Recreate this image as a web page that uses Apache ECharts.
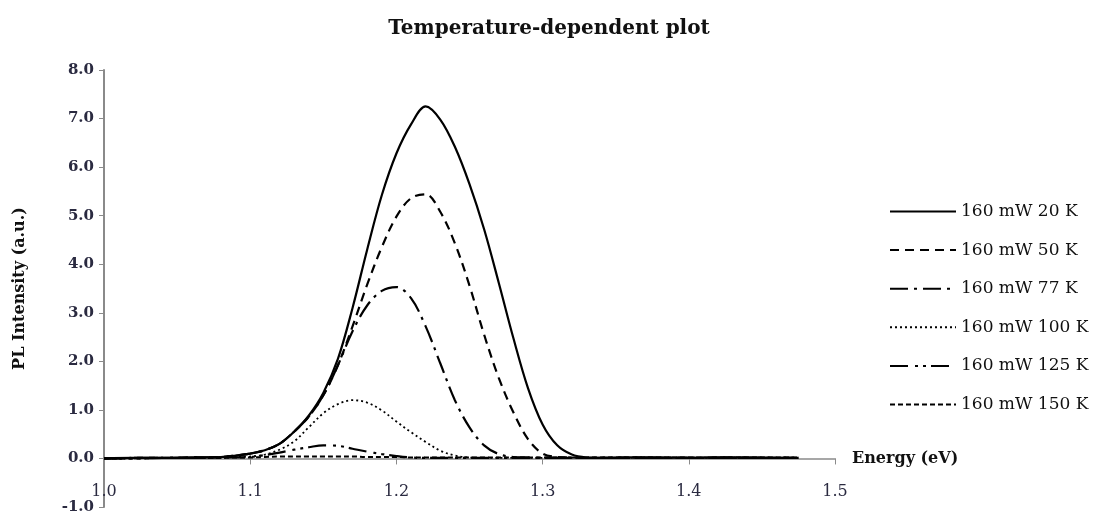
<!DOCTYPE html>
<html>
<head>
<meta charset="utf-8">
<script src="https://cdn.jsdelivr.net/npm/echarts@6/dist/echarts.min.js"></script>
<style>
html,body{margin:0;padding:0;background:#fff;}
#chart{width:1098px;height:516px;}
</style>
</head>
<body>
<div id="chart"></div>
<script>
// Energy (eV) sample points shared by all series
var energy = [1.00,1.02,1.04,1.06,1.08,1.09,1.10,1.11,1.12,1.13,1.14,1.15,1.16,1.17,1.18,1.19,1.20,1.21,1.22,1.23,1.24,1.25,1.26,1.27,1.28,1.29,1.30,1.31,1.32,1.33,1.34,1.36,1.38,1.40,1.42,1.44,1.46,1.475];
var seriesNames = ["160 mW 20 K","160 mW 50 K","160 mW 77 K","160 mW 100 K","160 mW 125 K","160 mW 150 K"];
var pl20  = [0.00,0.01,0.01,0.02,0.03,0.06,0.10,0.17,0.30,0.55,0.88,1.35,2.05,3.10,4.30,5.42,6.28,6.88,7.25,6.98,6.42,5.65,4.72,3.62,2.48,1.45,0.70,0.27,0.08,0.02,0.01,0.02,0.02,0.01,0.02,0.02,0.01,0.01];
var pl50  = [0.00,0.01,0.01,0.02,0.03,0.06,0.10,0.17,0.30,0.55,0.86,1.30,1.92,2.72,3.58,4.35,4.98,5.36,5.44,5.08,4.43,3.56,2.55,1.66,0.95,0.40,0.10,0.03,0.02,0.01,0.01,0.02,0.01,0.01,0.02,0.01,0.01,0.01];
var pl77  = [0.00,0.01,0.01,0.02,0.03,0.06,0.10,0.17,0.30,0.55,0.86,1.30,1.92,2.62,3.15,3.45,3.53,3.30,2.72,1.96,1.20,0.64,0.27,0.09,0.03,0.02,0.01,0.01,0.01,0.01,0.01,0.01,0.01,0.01,0.01,0.01,0.01,0.01];
var pl100 = [0.00,0.00,0.01,0.01,0.02,0.03,0.04,0.08,0.18,0.35,0.64,0.93,1.12,1.20,1.15,0.99,0.76,0.54,0.34,0.16,0.06,0.02,0.01,0.01,0.01,0.01,0.01,0.01,0.01,0.01,0.01,0.01,0.01,0.01,0.01,0.01,0.01,0.01];
var pl125 = [0.00,0.00,0.01,0.01,0.02,0.02,0.03,0.07,0.12,0.18,0.23,0.27,0.26,0.20,0.14,0.09,0.05,0.02,0.01,0.01,0.01,0.01,0.01,0.01,0.01,0.01,0.01,0.01,0.01,0.01,0.01,0.01,0.01,0.01,0.01,0.01,0.01,0.01];
var pl150 = [0.00,0.00,0.01,0.01,0.01,0.02,0.02,0.03,0.04,0.04,0.04,0.04,0.04,0.04,0.03,0.03,0.03,0.02,0.02,0.02,0.02,0.02,0.02,0.02,0.02,0.02,0.02,0.02,0.02,0.02,0.02,0.02,0.02,0.02,0.02,0.02,0.02,0.02];
var xTicks = {min:1.0, max:1.5, interval:0.1};
var yTicks = {min:-1, max:8, interval:1};

var allValues = [pl20, pl50, pl77, pl100, pl125, pl150];
var dashTypes = ['solid', [9,6], [18,6,3,6], [2,3], [18,7,3,5,3,5], [5,3]];
var widths = [2.2, 2.2, 2.2, 1.8, 2.2, 2];

var FONT = '"DejaVu Serif", serif';
var series = allValues.map(function(vals, k){
  return {
    name: seriesNames[k],
    type: 'line',
    smooth: 0.35,
    symbol: 'none',
    data: energy.map(function(e, i){ return [e, vals[i]]; }),
    lineStyle: {color:'#000', width: widths[k], type: dashTypes[k]},
    itemStyle: {color:'#000'},
    z: 10 - k
  };
});

var chart = echarts.init(document.getElementById('chart'), null, {renderer:'canvas'});
chart.setOption({
  animation: false,
  backgroundColor: '#fff',
  title: {
    text: 'Temperature-dependent plot',
    left: 'center', top: 14,
    textStyle: {fontFamily: FONT, fontSize: 20, fontWeight: 'bold', color: '#111'}
  },
  legend: {
    orient: 'vertical',
    left: 884, top: 198,
    itemWidth: 66, itemHeight: 14, itemGap: 21.6,
    itemStyle: {opacity: 0},
    textStyle: {fontFamily: FONT, fontSize: 17, color: '#111'},
    data: seriesNames
  },
  grid: {left: 104, right: 263, top: 70, bottom: 9, containLabel: false, outerBoundsMode: 'none'},
  xAxis: {
    type: 'value',
    min: xTicks.min, max: xTicks.max, interval: xTicks.interval,
    name: 'Energy (eV)',
    nameLocation: 'end', nameGap: 17,
    nameTextStyle: {fontFamily: FONT, fontSize: 16, fontWeight: 'bold', color: '#111', verticalAlign: 'middle'},
    axisLine: {onZero: true, lineStyle: {color: '#8a8a8a', width: 1.5}},
    axisTick: {show: true, length: 6, lineStyle: {color: '#8a8a8a'}},
    axisLabel: {margin: -23, fontFamily: FONT, fontSize: 16, color: '#2a2a40',
      formatter: function(v){ return v.toFixed(1); }},
    splitLine: {show: false}
  },
  yAxis: {
    type: 'value',
    min: yTicks.min, max: yTicks.max, interval: yTicks.interval,
    name: 'PL Intensity (a.u.)',
    nameLocation: 'middle', nameGap: 76,
    nameTextStyle: {fontFamily: FONT, fontSize: 16, fontWeight: 'bold', color: '#111'},
    axisLine: {show: true, onZero: false, lineStyle: {color: '#8a8a8a', width: 2}},
    axisTick: {show: true, length: 5, lineStyle: {color: '#8a8a8a'}},
    axisLabel: {margin: 10, fontFamily: FONT, fontSize: 15, fontWeight: 'bold', color: '#2a2a40',
      formatter: function(v){ return v.toFixed(1); }},
    splitLine: {show: false}
  },
  series: series
});
</script>
</body>
</html>
